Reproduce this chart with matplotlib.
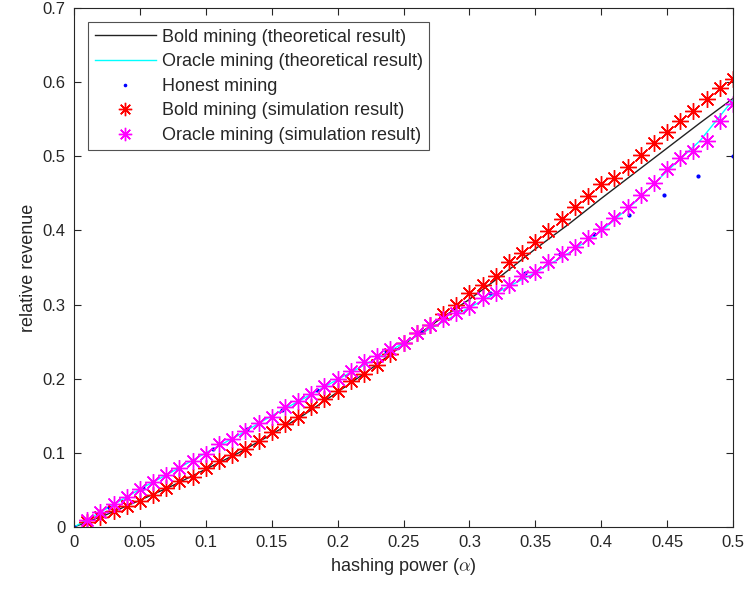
import matplotlib.pyplot as plt
import numpy as np

# hashing power grid for the simulations (0.01 .. 0.50)
alpha_sim = [round(0.01 * k, 2) for k in range(1, 51)]

bold_sim = [0.007, 0.014, 0.0215, 0.028, 0.035, 0.043, 0.052, 0.062, 0.067, 0.079,
            0.089, 0.097, 0.105, 0.116, 0.128, 0.139, 0.149, 0.162, 0.173, 0.184,
            0.197, 0.207, 0.219, 0.233, 0.248, 0.261, 0.273, 0.287, 0.300, 0.315,
            0.327, 0.339, 0.357, 0.369, 0.385, 0.399, 0.415, 0.431, 0.446, 0.462,
            0.471, 0.486, 0.502, 0.518, 0.533, 0.548, 0.561, 0.577, 0.592, 0.604]

oracle_sim = [0.0094, 0.0206, 0.031, 0.041, 0.051, 0.061, 0.070, 0.079, 0.089, 0.099,
              0.112, 0.118, 0.130, 0.140, 0.149, 0.162, 0.170, 0.180, 0.190, 0.199,
              0.211, 0.222, 0.231, 0.240, 0.248, 0.261, 0.272, 0.281, 0.288, 0.297,
              0.309, 0.315, 0.326, 0.338, 0.344, 0.358, 0.368, 0.378, 0.390, 0.402,
              0.417, 0.432, 0.448, 0.464, 0.483, 0.497, 0.507, 0.520, 0.548, 0.571]

# theoretical curves
alpha_th = [0, 0.025, 0.05, 0.075, 0.1, 0.125, 0.15, 0.175, 0.2, 0.225, 0.25,
            0.275, 0.3, 0.325, 0.35, 0.375, 0.4, 0.425, 0.45, 0.475, 0.5]
bold_th = [0, 0.017, 0.036, 0.056, 0.078, 0.100, 0.125, 0.152, 0.182, 0.213, 0.246,
           0.277, 0.307, 0.340, 0.375, 0.408, 0.443, 0.477, 0.511, 0.545, 0.578]
oracle_th = [0, 0.025, 0.051, 0.075, 0.100, 0.124, 0.150, 0.174, 0.199, 0.223, 0.248,
             0.272, 0.296, 0.320, 0.343, 0.369, 0.399, 0.437, 0.480, 0.521, 0.576]

# honest mining
alpha_hon = [0, 0.0263, 0.0526, 0.0789, 0.1053, 0.1316, 0.1579, 0.1842, 0.2105, 0.2368,
             0.2632, 0.2895, 0.3158, 0.3421, 0.3684, 0.3947, 0.4211, 0.4474, 0.4737, 0.5]
honest = [0, 0.0263, 0.0526, 0.0789, 0.1053, 0.1316, 0.1579, 0.1842, 0.2105, 0.2368,
          0.2632, 0.2895, 0.3158, 0.3421, 0.3684, 0.3947, 0.4211, 0.4474, 0.4737, 0.5]

gray = '#262626'
plt.rcParams['font.family'] = ['Liberation Sans', 'DejaVu Sans']
plt.rcParams['mathtext.fontset'] = 'cm'

fig = plt.figure(figsize=(7.46, 5.95), dpi=100)
ax = fig.add_axes([0.0992, 0.1143, 0.8834, 0.8723])

ast = (8, 2, 0)
ax.plot(alpha_th, bold_th, '-', color='#222222', lw=1.0, label='Bold mining (theoretical result)')
ax.plot(alpha_th, oracle_th, '-', color='#00FFFF', lw=1.0, label='Oracle mining (theoretical result)')
ax.plot(alpha_hon, honest, '.', color='#0000FF', ms=4, label='Honest mining')
ax.plot(alpha_sim, bold_sim, ls='none', marker=ast, color='#FF0000', ms=12, mew=1.0,
        label='Bold mining (simulation result)')
ax.plot(alpha_sim, oracle_sim, ls='none', marker=ast, color='#FF00FF', ms=12, mew=1.0,
        label='Oracle mining (simulation result)')

ax.set_xlim(0, 0.5)
ax.set_ylim(0, 0.7)
ax.set_xticks(np.arange(0, 0.51, 0.05))
ax.set_xticklabels(['0', '0.05', '0.1', '0.15', '0.2', '0.25', '0.3', '0.35', '0.4', '0.45', '0.5'])
ax.set_yticks(np.arange(0, 0.71, 0.1))
ax.set_yticklabels(['0', '0.1', '0.2', '0.3', '0.4', '0.5', '0.6', '0.7'])
ax.tick_params(direction='in', top=True, right=True, labelsize=12, colors=gray,
               length=5, width=0.8, pad=6)
for s in ax.spines.values():
    s.set_color(gray)
    s.set_linewidth(0.8)

ax.set_xlabel(r'hashing power ($\alpha$)', fontsize=13, color=gray)
ax.set_ylabel('relative revenue', fontsize=13, color=gray)

leg = ax.legend(loc='upper left', fontsize=13, frameon=True, fancybox=False,
                edgecolor=gray, borderaxespad=0.8, handlelength=3.4, markerscale=0.8,
                labelspacing=0.42, borderpad=0.35, handletextpad=0.3)
leg.get_frame().set_linewidth(0.8)
for t in leg.get_texts():
    t.set_color(gray)

plt.savefig('out.png', dpi=100)
